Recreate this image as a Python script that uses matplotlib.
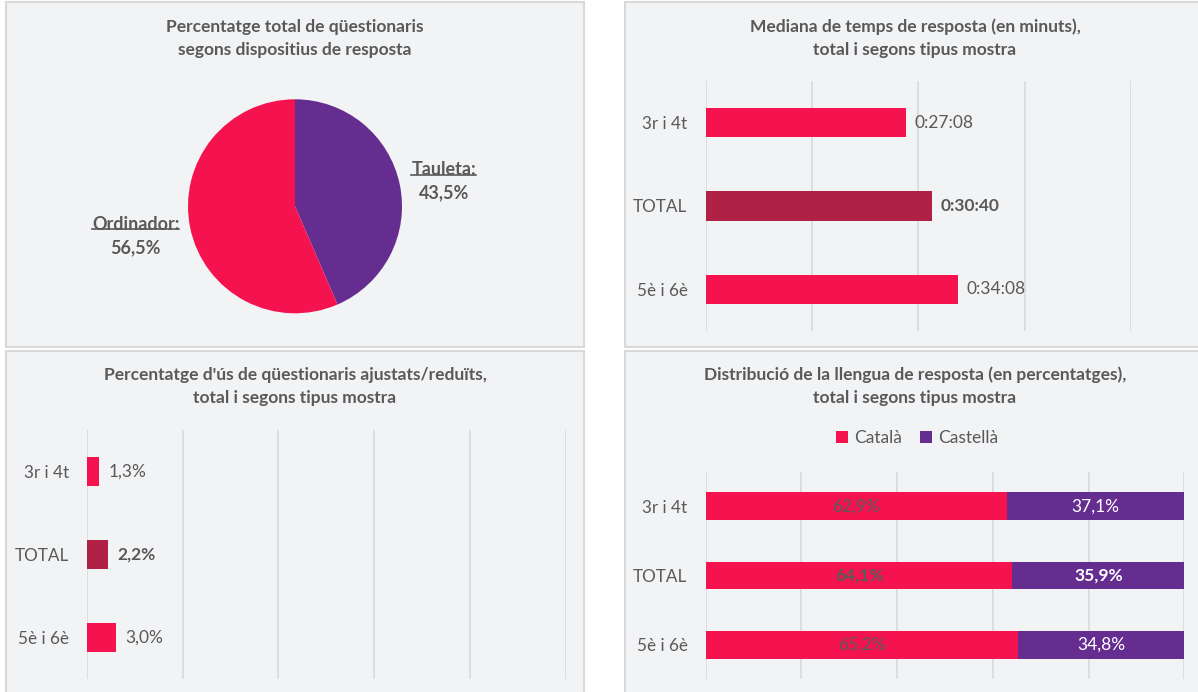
import numpy as np
import matplotlib
matplotlib.use("Agg")
import matplotlib.pyplot as plt
from matplotlib.patches import Rectangle
from matplotlib.lines import Line2D

plt.rcParams['font.family'] = ['Lato', 'DejaVu Sans']

# ---------------- data ----------------
pie_labels = ["Tauleta", "Ordinador"]
pie_values = [43.5, 56.5]

categories = ["3r i 4t", "TOTAL", "5è i 6è"]
temps = ["0:27:08", "0:30:40", "0:34:08"]

ajustats = [1.3, 2.2, 3.0]

catala = [62.9, 64.1, 65.2]
castella = [37.1, 35.9, 34.8]
llengua_labels = ["Català", "Castellà"]

titles = [
    "Percentatge total de qüestionaris\nsegons dispositius de resposta",
    "Mediana de temps de resposta (en minuts),\ntotal i segons tipus mostra",
    "Percentatge d'ús de qüestionaris ajustats/reduïts,\ntotal i segons tipus mostra",
    "Distribució de la llengua de resposta (en percentatges),\ntotal i segons tipus mostra",
]

# ---------------- style ----------------
RED = "#F5134F"
DARKRED = "#B12145"
PURPLE = "#662D91"
BG = "#F2F3F5"
EDGE = "#D9D9D9"
GRID = "#D9D9D9"
TXT = "#595959"
FS = 12.5

W, H = 1198, 692
fig = plt.figure(figsize=(W / 100, H / 100), dpi=100)
fig.patch.set_facecolor("white")


def box(x0, y0, x1, y1):
    return [x0 / W, 1 - y1 / H, (x1 - x0) / W, (y1 - y0) / H]


# panel backgrounds
panels = [(6, 2, 584, 347), (625, 2, 1210, 347), (6, 351, 584, 700), (625, 351, 1210, 700)]
for (x0, y0, x1, y1) in panels:
    fig.add_artist(Rectangle((x0 / W, 1 - y1 / H), (x1 - x0) / W, (y1 - y0) / H,
                             transform=fig.transFigure, facecolor=BG, edgecolor=EDGE,
                             linewidth=1.5, zorder=0))

# titles
title_pos = [(295, 27, 50), (915, 27, 50), (295, 375, 398), (915, 375, 398)]
for t, (cx, y1, y2) in zip(titles, title_pos):
    l1, l2 = t.split("\n")
    fig.text(cx / W, 1 - y1 / H, l1, ha="center", va="center", fontsize=12.5,
             fontweight="bold", color=TXT)
    fig.text(cx / W, 1 - y2 / H, l2, ha="center", va="center", fontsize=12.5,
             fontweight="bold", color=TXT)

# ---------------- pie ----------------
axp = fig.add_axes(box(188, 99.3, 402, 313.3))
wedges, _ = axp.pie(pie_values, colors=[PURPLE, RED], startangle=90,
                    counterclock=False, radius=1, wedgeprops=dict(linewidth=0))
axp.set_xlim(-1, 1)
axp.set_ylim(-1, 1)
axp.set_aspect("equal")
axp.axis("off")

name_texts = []
for w, lab, val, dist, dy in zip(wedges, pie_labels, pie_values, [1.42, 1.52], [-0.055, 0.03]):
    ang = np.deg2rad((w.theta1 + w.theta2) / 2)
    x, y = dist * np.cos(ang), dist * np.sin(ang) + dy
    t1 = axp.text(x, y + 0.11, lab + ":", ha="center", va="center", fontsize=13,
                  fontweight="bold", color=TXT, clip_on=False)
    axp.text(x, y - 0.11, f"{val:.1f}%".replace(".", ","), ha="center", va="center",
             fontsize=13, fontweight="bold", color=TXT, clip_on=False)
    name_texts.append(t1)

# ---------------- time bars ----------------
def to_sec(s):
    h, m, sec = [int(p) for p in s.split(":")]
    return h * 3600 + m * 60 + sec

secs = [to_sec(t) for t in temps]
colors = [DARKRED if c == "TOTAL" else RED for c in categories]

axt = fig.add_axes(box(705.6, 81, 1131.3, 331))
axt.barh(range(len(categories)), secs, height=0.35, color=colors, zorder=3)
axt.set_xlim(0, 0.04 * 86400)
axt.set_ylim(len(categories) - 0.5, -0.5)
axt.set_xticks(np.arange(0, 0.04 * 86400 + 1, 0.01 * 86400))
axt.set_xticklabels([])
axt.set_yticks(range(len(categories)), categories)
for i, (s, t, c) in enumerate(zip(secs, temps, categories)):
    axt.annotate(t, (s, i), xytext=(6, 0), textcoords="offset points", va="center",
                 ha="left", fontsize=FS, color=TXT,
                 fontweight="bold" if c == "TOTAL" else "normal")

# ---------------- adjusted questionnaires ----------------
axa = fig.add_axes(box(86.9, 430, 565.6, 679.3))
axa.barh(range(len(categories)), ajustats, height=0.35, color=colors, zorder=3)
axa.set_xlim(0, 50)
axa.set_ylim(len(categories) - 0.5, -0.5)
axa.set_xticks(np.arange(0, 51, 10))
axa.set_xticklabels([])
axa.set_yticks(range(len(categories)), categories)
for i, (v, c) in enumerate(zip(ajustats, categories)):
    axa.annotate(f"{v:.1f}%".replace(".", ","), (v, i), xytext=(7, 0),
                 textcoords="offset points", va="center", ha="left", fontsize=FS,
                 color=TXT, fontweight="bold" if c == "TOTAL" else "normal")

# ---------------- language ----------------
axl = fig.add_axes(box(705.6, 471.7, 1184.3, 679.3))
b1 = axl.barh(range(len(categories)), catala, height=0.4, color=RED, zorder=3,
              label=llengua_labels[0])
b2 = axl.barh(range(len(categories)), castella, left=catala, height=0.4, color=PURPLE,
              zorder=3, label=llengua_labels[1])
axl.set_xlim(0, 100)
axl.set_ylim(len(categories) - 0.5, -0.5)
axl.set_xticks(np.arange(0, 101, 20))
axl.set_xticklabels([])
axl.set_yticks(range(len(categories)), categories)
for i, (a, b, c) in enumerate(zip(catala, castella, categories)):
    fw = "bold" if c == "TOTAL" else "normal"
    axl.text(a / 2, i, f"{a:.1f}%".replace(".", ","), ha="center", va="center",
             fontsize=FS, color=TXT, fontweight=fw, zorder=4)
    axl.text(a + b / 2, i, f"{b:.1f}%".replace(".", ","), ha="center", va="center",
             fontsize=FS, color="white", fontweight=fw, zorder=4)
fig.legend(handles=[b1, b2], labels=llengua_labels, loc="center",
           bbox_to_anchor=(917 / W, 1 - 438 / H), ncol=2, frameon=False, fontsize=FS,
           handlelength=0.72, handleheight=0.72, handletextpad=0.35, columnspacing=1.0,
           labelcolor=TXT)

for ax in (axt, axa, axl):
    ax.set_facecolor("none")
    for sp in ax.spines.values():
        sp.set_visible(False)
    ax.grid(axis="x", color=GRID, linewidth=1.2, zorder=0)
    ax.set_axisbelow(True)
    ax.tick_params(axis="both", length=0)
    ax.tick_params(axis="y", labelsize=12.3, labelcolor=TXT, pad=13)

# underline pie category names
fig.canvas.draw()
renderer = fig.canvas.get_renderer()
for t in name_texts:
    bb = t.get_window_extent(renderer)
    yline = (bb.y0 + 3.5) / H
    fig.add_artist(Line2D([bb.x0 / W, bb.x1 / W], [yline, yline], color=TXT,
                          linewidth=1.2, transform=fig.transFigure))

fig.savefig("out.png", dpi=100, facecolor="white")
